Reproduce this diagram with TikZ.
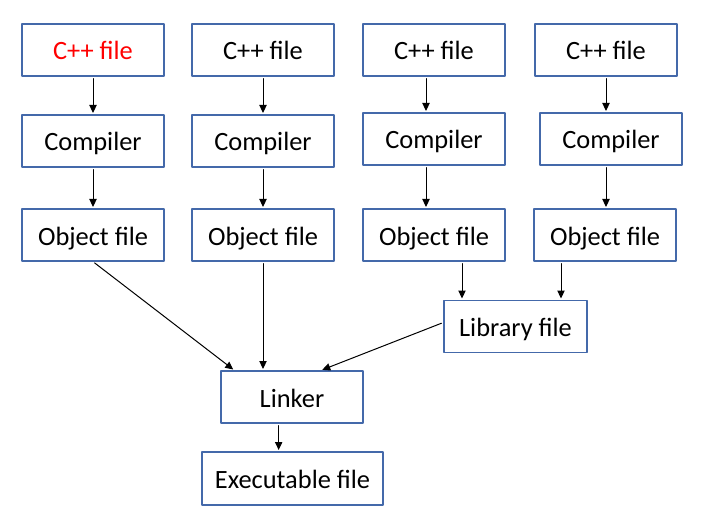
\documentclass[tikz,border=0pt]{standalone}
\usepackage{fontspec}
\setmainfont{Carlito}
\usetikzlibrary{arrows, arrows.meta, calc}
\definecolor{boxblue}{RGB}{68,105,170}

\begin{document}
\begin{tikzpicture}[x=0.75pt, y=-0.75pt, >={Triangle[width=5.5pt,length=6pt]}, line cap=round, line join=round,
	font=\fontsize{19.8}{23}\selectfont,
	box/.style={draw=boxblue, line width=1pt, minimum width=106.5pt, minimum height=39pt, inner sep=0pt,
		text height=16pt, text depth=1pt},
	link/.style={->, line width=0.75pt, shorten <=1.5pt, shorten >=1pt}]

\useasboundingbox (0,0) rectangle (721,506);

% ==== Sources ====
\node[box, text=red] (cpp1) at (93,50) {C++ file};
\node[box] (cpp2) at (263,50) {C++ file};
\node[box] (cpp3) at (434,50) {C++ file};
\node[box] (cpp4) at (606,50) {C++ file};

% ==== Compilers ====
\node[box] (comp1) at (93,141) {Compiler};
\node[box] (comp2) at (263,141) {Compiler};
\node[box] (comp3) at (434,139) {Compiler};
\node[box] (comp4) at (611,139) {Compiler};

% ==== Object files ====
\node[box] (obj1) at (93,235) {Object file};
\node[box] (obj2) at (263,235) {Object file};
\node[box] (obj3) at (434,235) {Object file};
\node[box] (obj4) at (605,235) {Object file};

% library, linker, result
\node[box, minimum width=107.25pt] (lib) at (515.5,326.5) {Library file};
\node[box] (linker) at (292,397) {Linker};
\node[box, minimum width=135.75pt, minimum height=39.75pt] (exe) at (292.5,478.5) {Executable file};

% ==== Arrows ====
\draw[link] (cpp1) -- (comp1);
\draw[link] (cpp2) -- (comp2);
\draw[link] ([xshift=-6pt]cpp3.south) -- ([xshift=-6pt]comp3.north);
\draw[link] (cpp4.south) -- (cpp4.south |- comp4.north);

\draw[link] (comp1) -- (obj1);
\draw[link] (comp2) -- (obj2);
\draw[link] ([xshift=-6pt]comp3.south) -- ([xshift=-6pt]obj3.north);
\draw[link] (comp4.south -| cpp4.south) -- (obj4.north -| cpp4.south);

\coordinate (l3) at ([xshift=21pt]obj3.south);
\coordinate (l4) at ([xshift=-33pt]obj4.south);
\draw[link] (l3) -- (l3 |- lib.north);
\draw[link] (l4) -- (l4 |- lib.north);

\draw[link] (obj1.south) -- ([xshift=10.5pt]linker.north west);
\draw[link] (obj2.south) -- (obj2.south |- linker.north);
\draw[link] ([yshift=3pt]lib.west) -- ([xshift=-32pt]linker.north east);

\coordinate (lx) at ([xshift=-10pt]linker.south);
\draw[link] (lx) -- (lx |- exe.north);

\end{tikzpicture}
\end{document}
